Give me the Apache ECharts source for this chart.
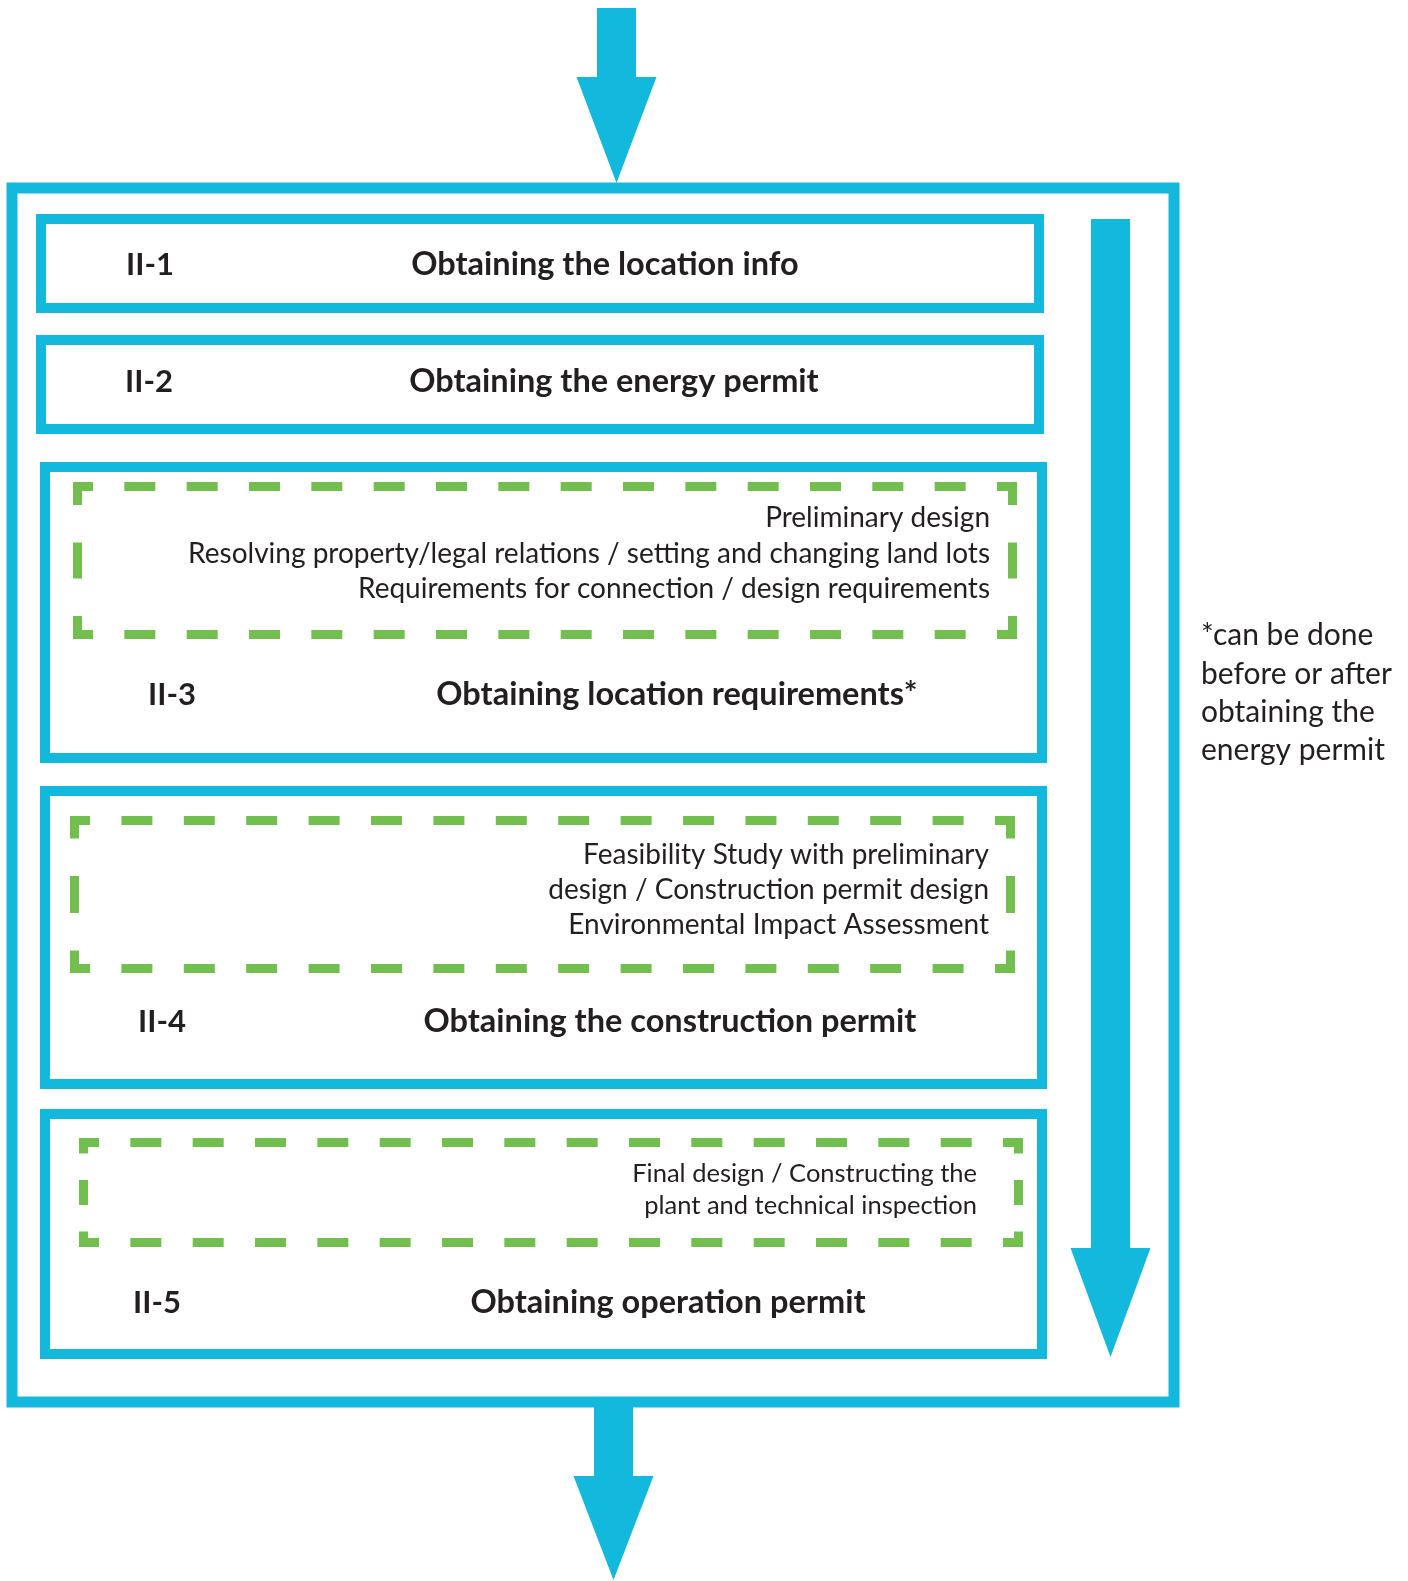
<!DOCTYPE html>
<html>
<head>
<meta charset="utf-8">
<script src="https://cdn.jsdelivr.net/npm/echarts@6/dist/echarts.min.js"></script>
<style>
  html, body { margin: 0; padding: 0; background: #fff; }
  #main { width: 1408px; height: 1581px; }
</style>
</head>
<body>
<div id="main"></div>
<script>
// canvas units: 1 unit = 1 px on the 1408 x 1581 page
var W = 1408, H = 1581;

// steps of phase II
var stepCodes = ["II-1", "II-2", "II-3", "II-4", "II-5"];
var stepTitles = [
  "Obtaining the location info",
  "Obtaining the energy permit",
  "Obtaining location requirements*",
  "Obtaining the construction permit",
  "Obtaining operation permit"
];
var stepLeft = [41, 41, 45, 45, 45];
var stepRight = [1039, 1039, 1042, 1042, 1042];
var stepTop = [219, 340, 467, 791, 1114];
var stepBottom = [308, 429, 758, 1084, 1354];
var codeX = [126, 125, 148, 138, 133];
var titleX = [605, 614, 677, 670, 668];
var labelY = [265, 382, 695, 1022, 1303];

// activities inside steps II-3, II-4, II-5 (green dashed frames)
var subLines = [
  ["Preliminary design",
   "Resolving property/legal relations / setting and changing land lots",
   "Requirements for connection / design requirements"],
  ["Feasibility Study with preliminary",
   "design / Construction permit design",
   "Environmental Impact Assessment"],
  ["Final design / Constructing the",
   "plant and technical inspection"]
];
var subRight = [990, 989, 977];
var subLineY = [[518, 554, 589], [855, 890, 925], [1174, 1206]];
var dashLeft = [77.5, 74.5, 83.5];
var dashRight = [1012.5, 1010.5, 1018.5];
var dashTop = [486.5, 820.5, 1142.5];
var dashBottom = [634.5, 968.5, 1242.5];
var dashArmV = [18.5, 18, 11];
var dashMidV = [36, 37, 25];

// surrounding frame and arrows
var frame = [12, 188, 1174, 1402];
var arrowX = [616.5, 1110.5, 613.5];
var arrowStart = [8, 219, 1402];
var arrowHead = [77, 1248, 1476];
var arrowTip = [183, 1357, 1580];

// side note
var noteLines = ["*can be done", "before or after", "obtaining the", "energy permit"];
var noteX = 1201;
var noteY = [635, 674, 712, 750];

var CYAN = "#13B9DD";
var GREEN = "#72BF4F";
var INK = "#231F20";
var FONT = "Lato, 'Open Sans', sans-serif";

var chart = echarts.init(document.getElementById("main"), null, { renderer: "canvas" });

function pt(api, x, y) {
  return api.coord([x, y]);
}

function segs(a, b, arm, dash, n) {
  var s = a + arm, e = b - arm;
  var gap = (e - s - n * dash) / (n + 1);
  var out = [];
  for (var k = 0; k < n; k++) {
    var p = s + gap * (k + 1) + dash * k;
    out.push([p, p + dash]);
  }
  return out;
}

var option = {
  animation: false,
  backgroundColor: "#fff",
  grid: { left: 0, right: 0, top: 0, bottom: 0 },
  xAxis: { type: "value", min: 0, max: W, show: false },
  yAxis: { type: "value", min: 0, max: H, inverse: true, show: false },
  series: [
    {
      // outer frame
      type: "custom",
      data: [frame],
      renderItem: function (params, api) {
        var p0 = pt(api, api.value(0), api.value(1));
        var p1 = pt(api, api.value(2), api.value(3));
        return {
          type: "rect",
          shape: { x: p0[0], y: p0[1], width: p1[0] - p0[0], height: p1[1] - p0[1] },
          style: { fill: null, stroke: CYAN, lineWidth: 11 }
        };
      }
    },
    {
      // arrows
      type: "custom",
      data: arrowX.map(function (x, i) { return [x, arrowStart[i], arrowHead[i], arrowTip[i]]; }),
      renderItem: function (params, api) {
        var cx = api.value(0), y0 = api.value(1), yh = api.value(2), yt = api.value(3);
        var sw = 19.5, hw = 40;
        var pts = [
          [cx - sw, y0], [cx + sw, y0], [cx + sw, yh], [cx + hw, yh],
          [cx, yt], [cx - hw, yh], [cx - sw, yh]
        ].map(function (p) { return pt(api, p[0], p[1]); });
        return { type: "polygon", shape: { points: pts }, style: { fill: CYAN } };
      }
    },
    {
      // step boxes
      type: "custom",
      data: stepCodes.map(function (c, i) { return [stepLeft[i], stepTop[i], stepRight[i], stepBottom[i]]; }),
      renderItem: function (params, api) {
        var p0 = pt(api, api.value(0), api.value(1));
        var p1 = pt(api, api.value(2), api.value(3));
        return {
          type: "rect",
          shape: { x: p0[0], y: p0[1], width: p1[0] - p0[0], height: p1[1] - p0[1] },
          style: { fill: null, stroke: CYAN, lineWidth: 10 }
        };
      }
    },
    {
      // green dashed frames
      type: "custom",
      data: dashLeft.map(function (x, i) { return [x, dashTop[i], dashRight[i], dashBottom[i], dashArmV[i], dashMidV[i]]; }),
      renderItem: function (params, api) {
        var x0 = api.value(0), y0 = api.value(1), x1 = api.value(2), y1 = api.value(3);
        var armV = api.value(4), midV = api.value(5);
        var armH = 15.5;
        var st = { stroke: GREEN, lineWidth: 9, lineCap: "butt", lineJoin: "miter", fill: null };
        var kids = [];
        var corners = [
          [[x0, y0 + armV], [x0, y0], [x0 + armH, y0]],
          [[x1 - armH, y0], [x1, y0], [x1, y0 + armV]],
          [[x1, y1 - armV], [x1, y1], [x1 - armH, y1]],
          [[x0 + armH, y1], [x0, y1], [x0, y1 - armV]]
        ];
        corners.forEach(function (c) {
          kids.push({ type: "polyline", shape: { points: c.map(function (p) { return pt(api, p[0], p[1]); }) }, style: st });
        });
        segs(x0, x1, armH, 31, 14).forEach(function (s) {
          [y0, y1].forEach(function (y) {
            var a = pt(api, s[0], y), b = pt(api, s[1], y);
            kids.push({ type: "line", shape: { x1: a[0], y1: a[1], x2: b[0], y2: b[1] }, style: st });
          });
        });
        segs(y0, y1, armV, midV, 1).forEach(function (s) {
          [x0, x1].forEach(function (x) {
            var a = pt(api, x, s[0]), b = pt(api, x, s[1]);
            kids.push({ type: "line", shape: { x1: a[0], y1: a[1], x2: b[0], y2: b[1] }, style: st });
          });
        });
        return { type: "group", children: kids };
      }
    },
    {
      // step codes and titles
      type: "custom",
      data: stepCodes.map(function (c, i) { return [codeX[i], titleX[i], labelY[i]]; }),
      renderItem: function (params, api) {
        var i = params.dataIndex;
        var a = pt(api, api.value(0), api.value(2));
        var b = pt(api, api.value(1), api.value(2));
        return {
          type: "group",
          children: [
            { type: "text", x: a[0], y: a[1], style: { text: stepCodes[i], fill: INK, font: "bold 31px " + FONT, align: "left", verticalAlign: "middle" } },
            { type: "text", x: b[0], y: b[1], style: { text: stepTitles[i], fill: INK, font: "bold 32.5px " + FONT, align: "center", verticalAlign: "middle" } }
          ]
        };
      }
    },
    {
      // activity lines inside dashed frames
      type: "custom",
      data: subRight.map(function (x, i) { return [x, i]; }),
      renderItem: function (params, api) {
        var i = params.dataIndex;
        var size = i === 2 ? 25.5 : 28;
        var kids = subLines[i].map(function (t, j) {
          var p = pt(api, api.value(0), subLineY[i][j]);
          return { type: "text", x: p[0], y: p[1], style: { text: t, fill: INK, font: size + "px " + FONT, align: "right", verticalAlign: "middle" } };
        });
        return { type: "group", children: kids };
      }
    },
    {
      // side note
      type: "custom",
      data: noteLines.map(function (t, i) { return [noteX, noteY[i]]; }),
      renderItem: function (params, api) {
        var p = pt(api, api.value(0), api.value(1));
        return { type: "text", x: p[0], y: p[1], style: { text: noteLines[params.dataIndex], fill: INK, font: "30px " + FONT, align: "left", verticalAlign: "middle" } };
      }
    }
  ]
};

chart.setOption(option);
</script>
</body>
</html>
